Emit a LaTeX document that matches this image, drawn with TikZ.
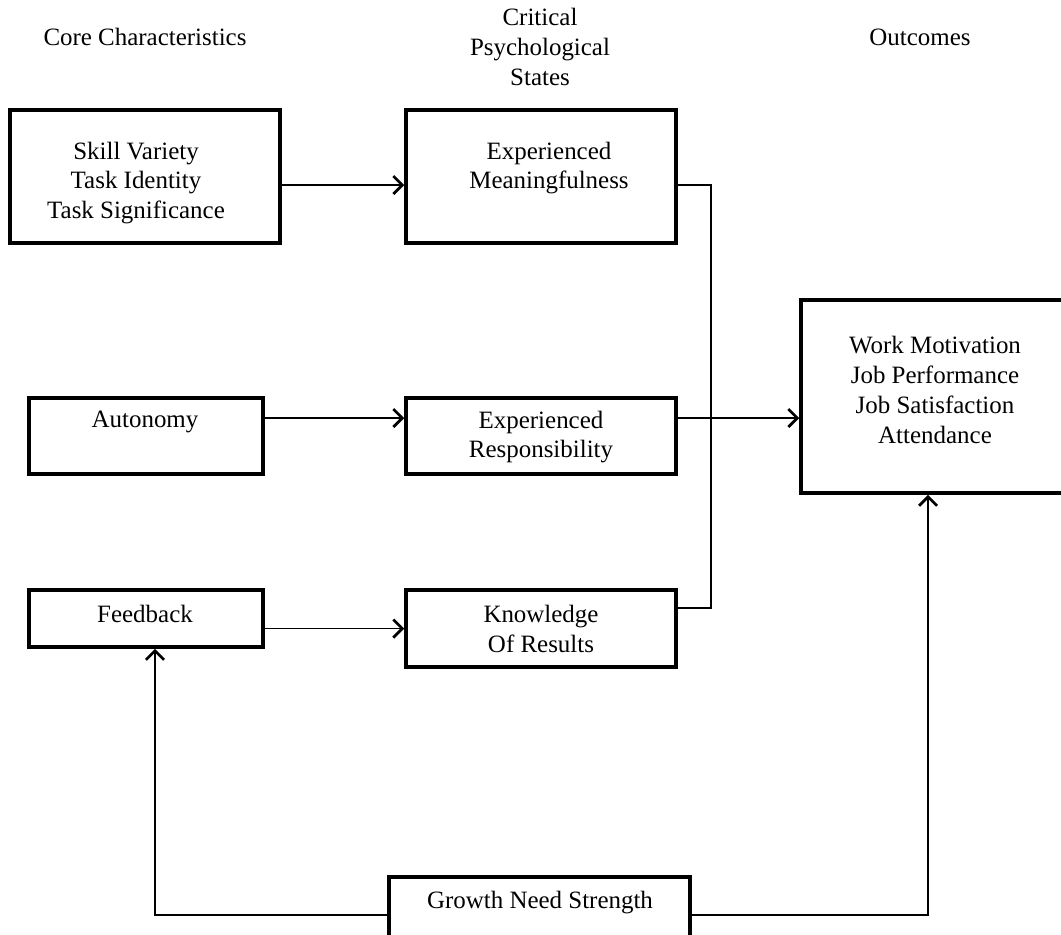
\documentclass[tikz,border=0pt]{standalone}
\usepackage{fontspec}
\setmainfont{Liberation Serif}
\usetikzlibrary{arrows.meta}

\begin{document}
\begin{tikzpicture}[x=0.02cm,y=-0.02cm,line cap=butt,
  font=\fontsize{14.2}{17}\selectfont,
  box/.style 2 args={draw,line width=2pt,inner sep=0pt,
    minimum width=#1*0.02cm,minimum height=#2*0.02cm},
  txt/.style={align=center,inner sep=0pt},
  tip/.style={-{Straight Barb[length=1.8mm,width=3.6mm,line width=1.6pt]}},
  arr/.style={line width=1.1pt,tip},
  link/.style={line width=0.7pt}]
\useasboundingbox (0,0) rectangle (1061,934);
% headings
\node[txt] (hcore) at (145,37) {Core Characteristics};
\node[txt] (hcrit) at (540,47) {Critical\\Psychological\\States};
\node[txt] (hout) at (920,37) {Outcomes};
% boxes
\node[box={270}{133}] (skills) at (145,176.5) {};
\node[box={234}{76}] (auto) at (146,436) {};
\node[box={234}{57}] (fb) at (146,618.5) {};
\node[box={270}{133}] (mean) at (541,176.5) {};
\node[box={270}{76}] (resp) at (541,436) {};
\node[box={270}{77}] (know) at (541,628.5) {};
\node[box={262}{193}] (outc) at (932,396.5) {};
\node[box={301}{76}] (growth) at (539.5,915) {};
% texts
\node[txt] (skills-t) at (136,183) {Skill Variety\\Task Identity\\Task Significance};
\node[txt] (auto-t) at (145,422) {Autonomy};
\node[txt] (fb-t) at (145,614) {Feedback};
\node[txt] (mean-t) at (549,168) {Experienced\\Meaningfulness};
\node[txt] (resp-t) at (541,437) {Experienced\\Responsibility};
\node[txt] (know-t) at (541,629) {Knowledge\\Of Results};
\node[txt] (outc-t) at (935,390) {Work Motivation\\Job Performance\\Job Satisfaction\\Attendance};
\node[txt] (growth-t) at (540,903) {Growth Need Strength};
% connectors
\coordinate (bus) at (711,185);
\draw[arr] (skills.east |- bus) -- (mean.west |- bus);
\draw[arr] (auto.east |- 0,418) -- (resp.west |- 0,418);
\draw[arr] (fb.east |- know) -- (know.west);
\draw[link] (mean.east |- bus) -- (bus) |- (know.east |- 0,608);
\draw[arr] (resp.east |- 0,418) -- (outc.west |- 0,418);
\draw[link,tip] (growth.west) -| (fb.south -| 155,0);
\draw[link,tip] (growth.east) -| (outc.south -| 928,0);
\end{tikzpicture}
\end{document}
